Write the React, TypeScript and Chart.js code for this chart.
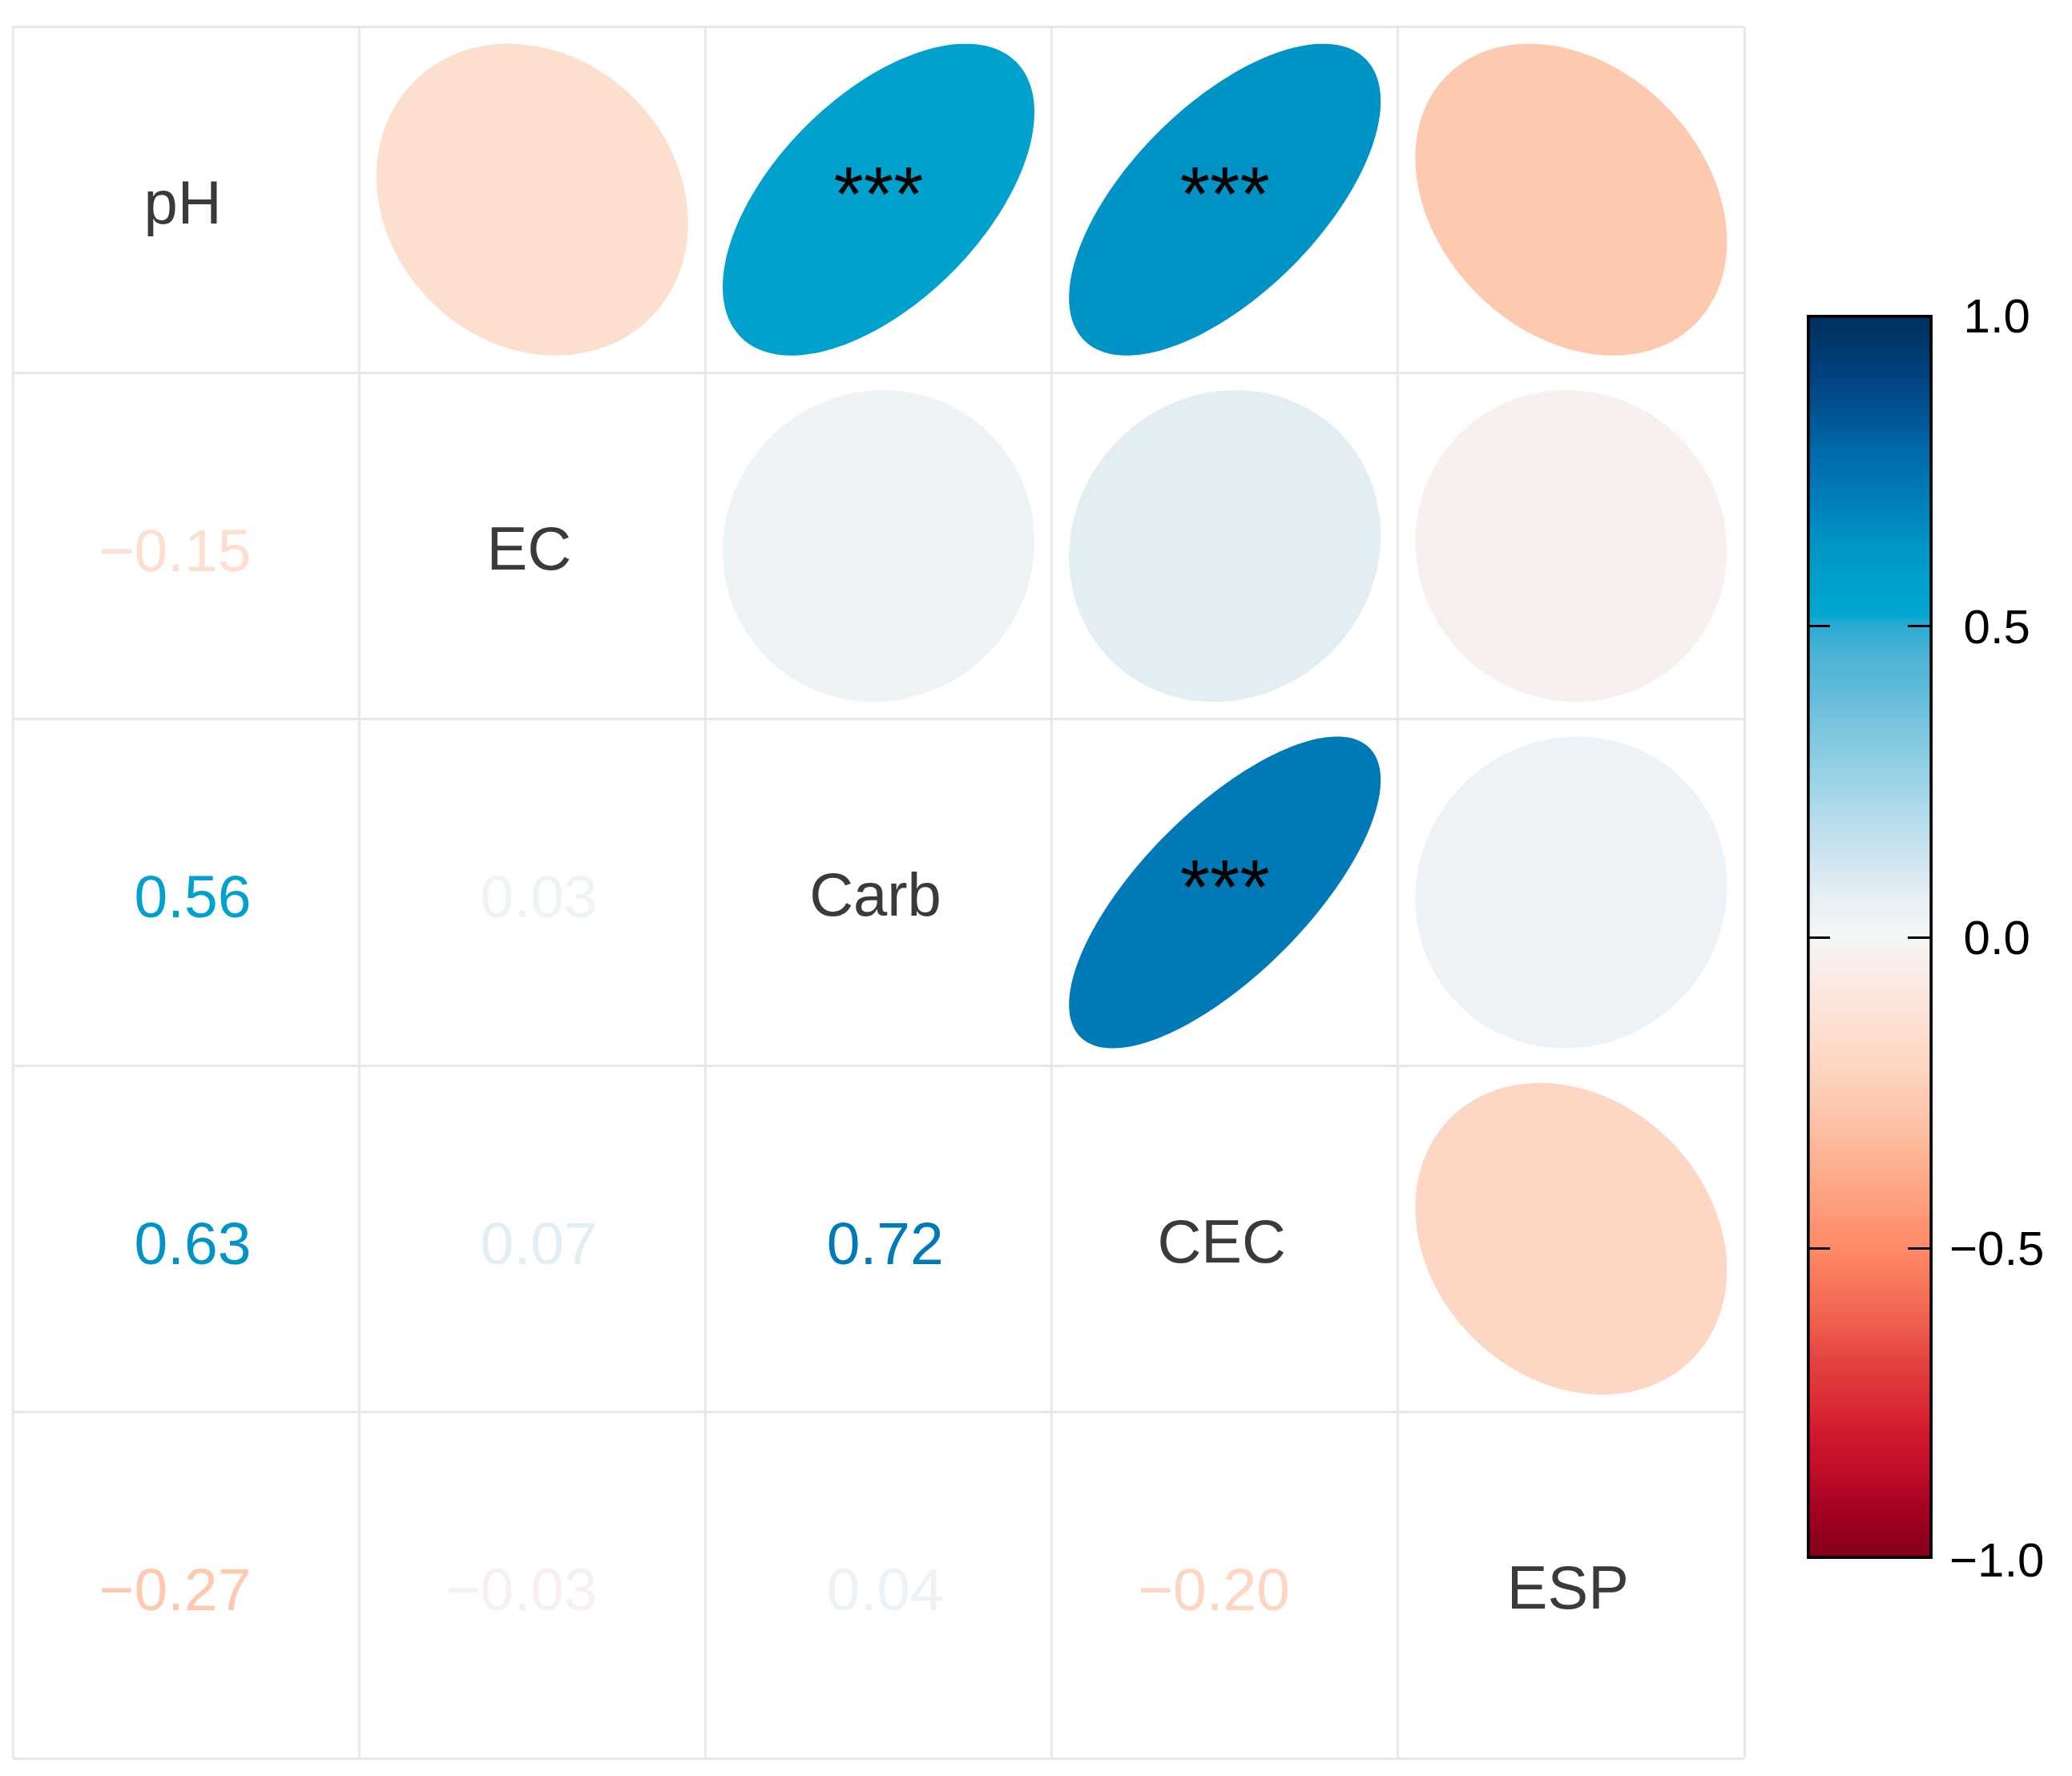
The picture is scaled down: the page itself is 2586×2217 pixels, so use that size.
import React, { useEffect, useRef } from 'react';
import { Chart, registerables } from 'chart.js';

Chart.register(...registerables);

// ---- data ----
const variables = ['pH', 'EC', 'Carb', 'CEC', 'ESP'];
const corPH = [1, -0.15, 0.56, 0.63, -0.27];
const corEC = [-0.15, 1, 0.03, 0.07, -0.03];
const corCarb = [0.56, 0.03, 1, 0.72, 0.04];
const corCEC = [0.63, 0.07, 0.72, 1, -0.2];
const corESP = [-0.27, -0.03, 0.04, -0.2, 1];
const sigPH = ['', '', '***', '***', ''];
const sigEC = ['', '', '', '', ''];
const sigCarb = ['***', '', '', '***', ''];
const sigCEC = ['***', '', '***', '', ''];
const sigESP = ['', '', '', '', ''];
const colorbarTicks = [-1, -0.5, 0, 0.5, 1];

// colour scale (value -> colour)
const paletteValues = [
  -1, -0.97, -0.93, -0.89, -0.845, -0.8, -0.76, -0.71, -0.67, -0.63, -0.585, -0.54, -0.5,
  -0.47, -0.43, -0.39, -0.34, -0.3, -0.26, -0.215, -0.17, -0.13, -0.086, -0.043, 0,
  0.05, 0.1, 0.15, 0.2, 0.25, 0.3, 0.35, 0.4, 0.45, 0.5,
  0.52, 0.57, 0.61, 0.66, 0.7, 0.74, 0.785, 0.83, 0.87, 0.91, 0.96, 1,
];
const paletteColors = [
  '#80001A', '#8E001C', '#A00020', '#B20825', '#C4102A', '#D0182E', '#DA2833', '#E0383A', '#E54843', '#EC5B4C', '#F46D55', '#FC7C5E', '#FF8A68',
  '#FF9070', '#FF9E7E', '#FDAA8A', '#FDB698', '#FDC1A5', '#FDCBB2', '#FDD5C0', '#FDDCCA', '#FCE2D6', '#FBE8E0', '#F8EEEA', '#F6F6F6',
  '#E9F1F5', '#D8E9F1', '#C5E2EE', '#B1DBEA', '#9DD3E6', '#88CBE2', '#75C3DD', '#5FBAD9', '#4FB3D6', '#2AABD3',
  '#00A6D0', '#00A0CC', '#0098C8', '#008CC0', '#0080BA', '#0074B2', '#0068AA', '#005796', '#004B88', '#00407C', '#003568', '#002E5E',
];

const corRows = [corPH, corEC, corCarb, corCEC, corESP];
const sigRows = [sigPH, sigEC, sigCarb, sigCEC, sigESP];

function hexToRgb(h: string) {
  const n = parseInt(h.slice(1), 16);
  return [(n >> 16) & 255, (n >> 8) & 255, n & 255];
}
function colorFor(v: number) {
  const vv = Math.max(-1, Math.min(1, v));
  for (let i = 0; i < paletteValues.length - 1; i++) {
    const a = paletteValues[i], b = paletteValues[i + 1];
    if (vv >= a && vv <= b) {
      const t = (vv - a) / (b - a);
      const ca = hexToRgb(paletteColors[i]), cb = hexToRgb(paletteColors[i + 1]);
      const c = ca.map((x, k) => Math.round(x + (cb[k] - x) * t));
      return `rgb(${c[0]},${c[1]},${c[2]})`;
    }
  }
  return paletteColors[paletteColors.length - 1];
}
function fmt(v: number, d: number) {
  return (v < 0 ? '\u2212' : '') + Math.abs(v).toFixed(d);
}

const FONT = '"Liberation Sans", Arial, Helvetica, sans-serif';

const ellipsePoints: any[] = [];
const coefPoints: any[] = [];
const labelPoints: any[] = [];
corRows.forEach((row, i) => {
  row.forEach((r, j) => {
    const p = { x: j + 0.5, y: i + 0.5, r, sig: sigRows[i][j], name: variables[i] };
    if (i < j) ellipsePoints.push(p);
    else if (i > j) coefPoints.push(p);
    else labelPoints.push(p);
  });
});

const corrPlugin = {
  id: 'corrCells',
  afterDatasetsDraw(chart: any) {
    const ctx = chart.ctx;
    const xs = chart.scales.x, ys = chart.scales.y;
    const cw = Math.abs(xs.getPixelForValue(1) - xs.getPixelForValue(0));
    const ch = Math.abs(ys.getPixelForValue(1) - ys.getPixelForValue(0));
    ctx.save();
    chart.data.datasets.forEach((ds: any, di: number) => {
      const meta = chart.getDatasetMeta(di);
      meta.data.forEach((el: any, k: number) => {
        const pt = ds.data[k];
        const px = el.x, py = el.y;
        if (ds.kind === 'ellipse') {
          const a = Math.acos(pt.r);
          ctx.beginPath();
          const N = 160;
          for (let s = 0; s <= N; s++) {
            const t = (s / N) * Math.PI * 2;
            const ex = Math.cos(t + a / 2) * 0.45 * cw;
            const ey = Math.cos(t - a / 2) * 0.45 * ch;
            if (s === 0) ctx.moveTo(px + ex, py - ey);
            else ctx.lineTo(px + ex, py - ey);
          }
          ctx.closePath();
          ctx.fillStyle = colorFor(pt.r);
          ctx.fill();
          if (pt.sig) {
            ctx.fillStyle = '#000';
            ctx.font = `96px ${FONT}`;
            ctx.textAlign = 'center';
            ctx.textBaseline = 'alphabetic';
            ctx.fillText(pt.sig, px, py + 0.06 * ch);
          }
        } else if (ds.kind === 'coef') {
          ctx.fillStyle = colorFor(pt.r);
          ctx.font = `75px ${FONT}`;
          ctx.textAlign = 'right';
          ctx.textBaseline = 'alphabetic';
          ctx.fillText(fmt(pt.r, 2), px + 0.188 * cw, py + 0.072 * ch);
        } else {
          ctx.fillStyle = '#3A3A3A';
          ctx.font = `76px ${FONT}`;
          ctx.textAlign = 'center';
          ctx.textBaseline = 'alphabetic';
          ctx.fillText(pt.name, px - 4, py + 0.068 * ch);
        }
      });
    });
    ctx.restore();
  },
};

const cbTickPlugin = {
  id: 'cbTicks',
  afterDatasetsDraw(chart: any) {
    const ctx = chart.ctx;
    const ys = chart.scales.y;
    const { left, right } = chart.chartArea;
    ctx.save();
    ctx.strokeStyle = '#000';
    ctx.lineWidth = 3;
    colorbarTicks.forEach((v) => {
      if (Math.abs(v) === 1) return;
      const py = Math.round(ys.getPixelForValue(v)) + 0.5;
      ctx.beginPath();
      ctx.moveTo(left + 3, py);
      ctx.lineTo(left + 29, py);
      ctx.moveTo(right - 31, py);
      ctx.lineTo(right - 3, py);
      ctx.stroke();
    });
    ctx.restore();
  },
};

export default function App() {
  const mainRef = useRef<HTMLCanvasElement>(null);
  const cbRef = useRef<HTMLCanvasElement>(null);

  useEffect(() => {
    const pointDs = (data: any[], kind: string) => ({
      kind,
      data,
      pointRadius: 0,
      pointHoverRadius: 0,
      showLine: false,
    });
    const gridOpts = { color: '#E8E8E8', lineWidth: 3, drawTicks: false };
    const main = new Chart(mainRef.current!, {
      type: 'scatter',
      data: {
        datasets: [
          pointDs(ellipsePoints, 'ellipse'),
          pointDs(coefPoints, 'coef'),
          pointDs(labelPoints, 'label'),
        ] as any,
      },
      options: {
        responsive: false,
        animation: false,
        devicePixelRatio: 1,
        events: [],
        layout: { padding: { left: 16, top: 33, right: 409, bottom: 22 } },
        plugins: { legend: { display: false }, tooltip: { enabled: false } },
        scales: {
          x: {
            type: 'linear', min: 0, max: 5,
            ticks: { display: false, stepSize: 1 },
            grid: gridOpts,
            border: { display: false },
            afterFit: (s: any) => { s.height = 0; },
          },
          y: {
            type: 'linear', min: 0, max: 5, reverse: true,
            ticks: { display: false, stepSize: 1 },
            grid: gridOpts,
            border: { display: false },
            afterFit: (s: any) => { s.width = 0; },
          },
        },
      } as any,
      plugins: [corrPlugin],
    });

    const cb = new Chart(cbRef.current!, {
      type: 'bar',
      data: {
        labels: [''],
        datasets: [
          {
            data: [[-1, 1]],
            backgroundColor: (c: any) => {
              const chart = c.chart;
              const ys = chart.scales.y;
              if (!ys || !chart.chartArea) return '#ffffff';
              const g = chart.ctx.createLinearGradient(0, ys.getPixelForValue(-1), 0, ys.getPixelForValue(1));
              paletteValues.forEach((v, i) => g.addColorStop((v + 1) / 2, paletteColors[i]));
              return g;
            },
            borderColor: '#000',
            borderWidth: 4,
            borderSkipped: false,
            barPercentage: 1,
            categoryPercentage: 1,
          } as any,
        ],
      },
      options: {
        responsive: false,
        animation: false,
        devicePixelRatio: 1,
        events: [],
        layout: { padding: { left: 55, top: 393, bottom: 271, right: 0 } },
        plugins: { legend: { display: false }, tooltip: { enabled: false } },
        scales: {
          x: { display: false },
          y: {
            position: 'right',
            min: -1,
            max: 1,
            afterBuildTicks: (s: any) => { s.ticks = colorbarTicks.map((v) => ({ value: v })); },
            ticks: {
              callback: (v: any) => fmt(Number(v), 1),
              font: { family: FONT, size: 60 },
              color: '#000',
              padding: 21,
              crossAlign: 'center',
              labelOffset: 5,
              autoSkip: false,
            },
            grid: { display: false, drawTicks: false },
            border: { display: false },
            afterFit: (s: any) => { s.width = 174; },
          },
        },
      } as any,
      plugins: [cbTickPlugin],
    });

    return () => {
      main.destroy();
      cb.destroy();
    };
  }, []);

  return (
    <div style={{ position: 'absolute', left: 0, top: 0, width: 2586, height: 2217, background: '#fff' }}>
      <canvas ref={mainRef} width={2586} height={2217} style={{ position: 'absolute', left: 0, top: 0, width: 2586, height: 2217 }} />
      <canvas ref={cbRef} width={386} height={2217} style={{ position: 'absolute', left: 2200, top: 0, width: 386, height: 2217 }} />
    </div>
  );
}
